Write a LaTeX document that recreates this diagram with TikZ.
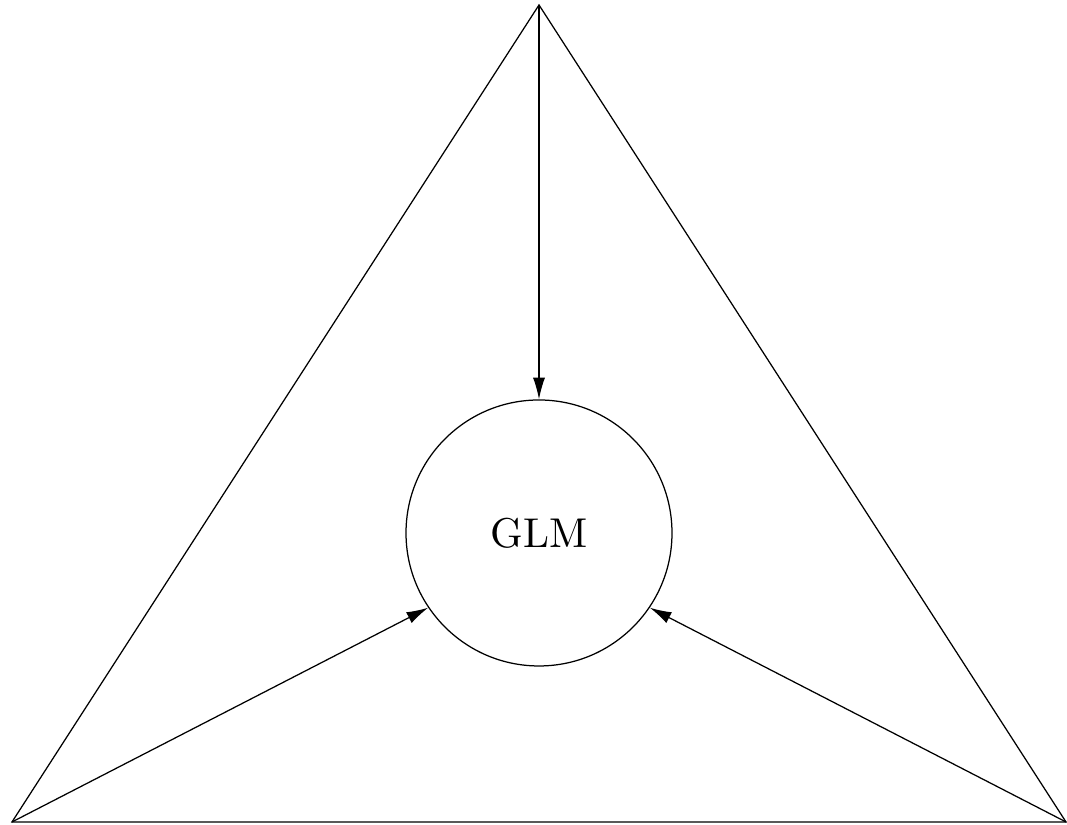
\documentclass[tikz,border=0pt]{standalone}
\usetikzlibrary{arrows.meta}
\begin{document}
\begin{tikzpicture}[x=0.24pt,y=0.24pt,
  edge/.style={line width=0.3pt},
  arr/.style={line width=0.3pt,-{Latex[length=5.2pt,width=2.9pt]}},
  glm/.style={circle,draw,line width=0.3pt,inner sep=0pt,minimum size=63.84pt,font=\fontsize{10}{12}\selectfont}]
\useasboundingbox (0,0) rectangle (1067,825);
\coordinate (top) at (539,820);
\coordinate (bl) at (12,3);
\coordinate (br) at (1066,3);
\node[glm] (g) at (539,292) {GLM};
\draw[edge] (top) -- (bl) -- (br) -- cycle;
\draw[arr] (top) -- (g.north);
\draw[arr] (bl) -- (g.214);
\draw[arr] (br) -- (g.326);
\end{tikzpicture}
\end{document}
